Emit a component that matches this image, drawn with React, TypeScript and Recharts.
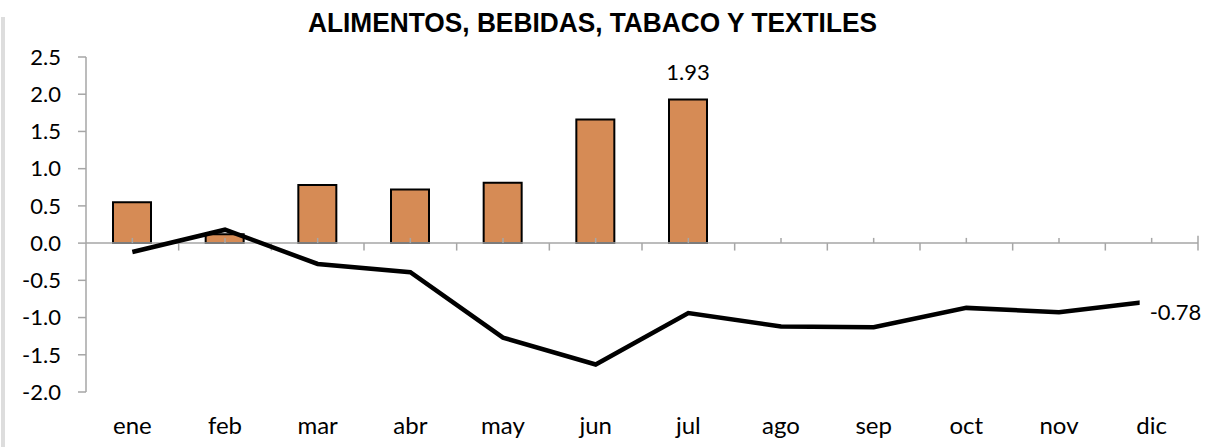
import React from 'react';
import {
  ComposedChart,
  Bar,
  Line,
  XAxis,
  YAxis,
  ReferenceLine,
  LabelList,
} from 'recharts';

const title = 'ALIMENTOS, BEBIDAS, TABACO Y TEXTILES';
const months = ['ene', 'feb', 'mar', 'abr', 'may', 'jun', 'jul', 'ago', 'sep', 'oct', 'nov', 'dic'];
const barValues: (number | null)[] = [0.55, 0.12, 0.78, 0.72, 0.81, 1.66, 1.93, null, null, null, null, null];
const lineValues: number[] = [-0.12, 0.18, -0.28, -0.39, -1.27, -1.63, -0.94, -1.12, -1.13, -0.87, -0.93, -0.78];
const yTicks = [-2, -1.5, -1, -0.5, 0, 0.5, 1, 1.5, 2, 2.5];

const data = months.map((m, i) => ({
  x: i + 0.5,
  month: m,
  bar: barValues[i],
  line: lineValues[i],
}));

const xTicks = months.map((_, i) => i + 0.5);
const boundaries = months.map((_, i) => i + 1);

const lastBarIndex = barValues.reduce((acc: number, v, i) => (v !== null ? i : acc), -1);
const lastLineIndex = lineValues.length - 1;

const FONT = 'Lato, "Open Sans", sans-serif';
const AXIS_GRAY = '#A6A6A6';

const BarLabel = (props: any) => {
  const { x, y, width, index, value } = props;
  if (index !== lastBarIndex || value == null) return null;
  return (
    <text
      x={Number(x) + Number(width) / 2}
      y={Number(y) - 19}
      textAnchor="middle"
      fontFamily={FONT}
      fontSize={22}
      fill="#000"
    >
      {Number(value).toFixed(2)}
    </text>
  );
};

const LineLabel = (props: any) => {
  const { x, y, index, value } = props;
  if (index !== lastLineIndex || value == null) return null;
  const px = Number(x);
  const py = Number(y);
  return (
    <g>
      <rect x={px - 12} y={py - 12} width={66} height={36} fill="#fff" />
      <text x={px - 2} y={py + 18.5} textAnchor="start" fontFamily={FONT} fontSize={22} fill="#000">
        {Number(value).toFixed(2)}
      </text>
    </g>
  );
};

export default function App() {
  return (
    <div style={{ position: 'absolute', left: 0, top: 0, width: 1222, height: 447, background: '#fff' }}>
      <div style={{ position: 'absolute', left: 1, top: 17, width: 4, height: 430, background: '#DDDDDD' }} />
      <svg width={1222} height={50} style={{ position: 'absolute', left: 0, top: 0 }}>
        <text
          x={592.5}
          y={32}
          textAnchor="middle"
          fontFamily='"Liberation Sans Narrow", "Arial Narrow", "Liberation Sans", sans-serif'
          fontWeight="bold"
          fontSize={28}
          textLength={569}
          lengthAdjust="spacingAndGlyphs"
          fill="#000"
        >
          {title}
        </text>
      </svg>
      <div style={{ position: 'absolute', left: 0, top: 0 }}>
        <ComposedChart
          width={1222}
          height={447}
          data={data}
          margin={{ top: 57, right: 24, bottom: 0, left: 0 }}
        >
          <XAxis
            dataKey="x"
            type="number"
            domain={[0, 12]}
            ticks={xTicks}
            tickFormatter={(v: number) => months[Math.floor(v)]}
            axisLine={false}
            tickLine={false}
            tickSize={0}
            tickMargin={25}
            height={55}
            interval={0}
            allowDataOverflow
            tick={{ fontFamily: FONT, fontSize: 24, fill: '#000' }}
          />
          <YAxis
            type="number"
            domain={[-2, 2.5]}
            ticks={yTicks}
            interval={0}
            width={86}
            tickSize={8}
            tickMargin={17}
            tickFormatter={(v: number) => v.toFixed(1)}
            axisLine={{ stroke: AXIS_GRAY, strokeWidth: 1.5 }}
            tickLine={{ stroke: AXIS_GRAY, strokeWidth: 1.5 }}
            tick={{ fontFamily: FONT, fontSize: 22, fill: '#000' }}
          />
          <Bar
            dataKey="bar"
            barSize={38}
            fill="#D68B55"
            stroke="#000"
            strokeWidth={2}
            isAnimationActive={false}
          >
            <LabelList dataKey="bar" content={BarLabel} />
          </Bar>
          <ReferenceLine y={0} stroke={AXIS_GRAY} strokeWidth={1.5} />
          {boundaries.map((b) => (
            <ReferenceLine
              key={'b' + b}
              segment={[
                { x: b, y: b === 12 ? 0.1 : 0 },
                { x: b, y: -0.1 },
              ]}
              stroke={AXIS_GRAY}
              strokeWidth={1.5}
            />
          ))}
          {xTicks.map((t) => (
            <ReferenceLine
              key={'c' + t}
              segment={[
                { x: t, y: 0 },
                { x: t, y: 0.07 },
              ]}
              stroke={AXIS_GRAY}
              strokeWidth={1.5}
            />
          ))}
          <Line
            dataKey="line"
            type="linear"
            stroke="#000"
            strokeWidth={4.5}
            dot={false}
            activeDot={false}
            isAnimationActive={false}
          >
            <LabelList dataKey="line" content={LineLabel} />
          </Line>
        </ComposedChart>
      </div>
    </div>
  );
}
